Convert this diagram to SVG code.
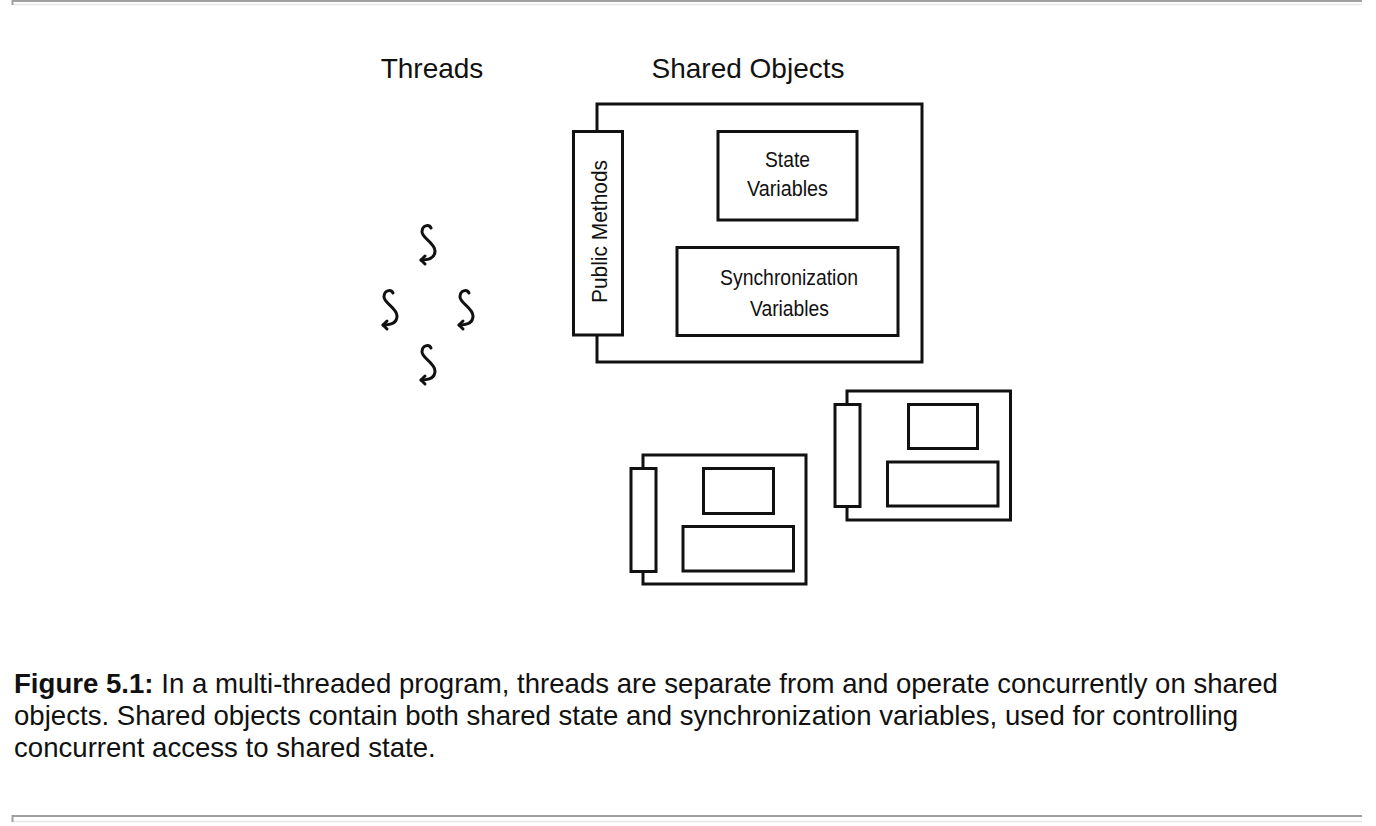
<svg xmlns="http://www.w3.org/2000/svg" width="1376" height="826" viewBox="0 0 1376 826">
<style>
.box{fill:#fff;stroke:#111;stroke-width:3}
.hdr{font-family:"Liberation Sans",Arial,sans-serif;font-size:28px;fill:#111;text-anchor:middle}
.lbl{font-family:"Liberation Sans",Arial,sans-serif;font-size:22px;fill:#111;text-anchor:middle}
.cap{font-family:"Liberation Sans",Arial,sans-serif;font-size:27.6px;fill:#111}
.thr{fill:none;stroke:#111;stroke-width:3;stroke-linecap:round;stroke-linejoin:round}
.hrd{stroke:#a0a0a0;stroke-width:2}
.hrl{stroke:#e6e6e6;stroke-width:1.5}
</style>
<defs>
<g id="squig">
<path class="thr" d="M4,-15 C2,-19 -5,-18 -5,-11 C-5,-5 8,0 8,8 C8,14 3,17 -6,17"/>
<path class="thr" d="M-2,13 L-6,17 L-2,21"/>
</g>
</defs>
<g id="rules">
<line class="hrd" x1="12" y1="1" x2="1362" y2="1"/>
<line class="hrl" x1="12" y1="4.5" x2="1362" y2="4.5"/>
<line class="hrd" x1="12.5" y1="0" x2="12.5" y2="5" stroke-width="1"/>
<line class="hrd" x1="12" y1="816" x2="1362" y2="816"/>
<line class="hrl" x1="12" y1="821.5" x2="1362" y2="821.5"/>
<line class="hrd" x1="12.5" y1="815" x2="12.5" y2="822" stroke-width="1"/>
</g>
<g id="headers">
<text class="hdr" x="432" y="78">Threads</text>
<text class="hdr" x="748" y="78">Shared Objects</text>
</g>
<g id="threads">
<use href="#squig" x="427" y="243"/>
<use href="#squig" x="389" y="308"/>
<use href="#squig" x="465" y="308"/>
<use href="#squig" x="427" y="363"/>
</g>
<g id="shared-object-main">
<rect class="box" x="597" y="104" width="325" height="258"/>
<rect class="box" x="573.5" y="131.5" width="49" height="203.5"/>
<text class="lbl" transform="translate(606.5,231.5) rotate(-90)" x="0" y="0" font-size="23" textLength="143" lengthAdjust="spacingAndGlyphs">Public  Methods</text>
<rect class="box" x="718" y="131.5" width="139" height="88.5"/>
<text class="lbl" x="787.5" y="167" textLength="45" lengthAdjust="spacingAndGlyphs">State</text>
<text class="lbl" x="787.5" y="196" textLength="81" lengthAdjust="spacingAndGlyphs">Variables</text>
<rect class="box" x="677" y="247.5" width="221" height="88"/>
<text class="lbl" x="789" y="285" textLength="138" lengthAdjust="spacingAndGlyphs">Synchronization</text>
<text class="lbl" x="789.5" y="316" textLength="79" lengthAdjust="spacingAndGlyphs">Variables</text>
</g>
<g id="shared-object-2">
<rect class="box" x="643" y="455" width="163" height="129"/>
<rect class="box" x="631" y="468.5" width="25" height="103"/>
<rect class="box" x="703.5" y="468.5" width="70" height="45"/>
<rect class="box" x="683" y="526.5" width="110.5" height="44.5"/>
</g>
<g id="shared-object-3">
<rect class="box" x="847" y="391" width="163.5" height="129"/>
<rect class="box" x="835" y="404.5" width="25" height="102"/>
<rect class="box" x="908.5" y="404.5" width="69" height="44"/>
<rect class="box" x="887.5" y="462" width="110.5" height="44"/>
</g>
<g id="caption">
<text class="cap" x="14" y="693"><tspan font-weight="bold">Figure 5.1:</tspan> In a multi-threaded program, threads are separate from and operate concurrently on shared</text>
<text class="cap" x="14" y="725">objects. Shared objects contain both shared state and synchronization variables, used for controlling</text>
<text class="cap" x="14" y="757">concurrent access to shared state.</text>
</g>
</svg>
